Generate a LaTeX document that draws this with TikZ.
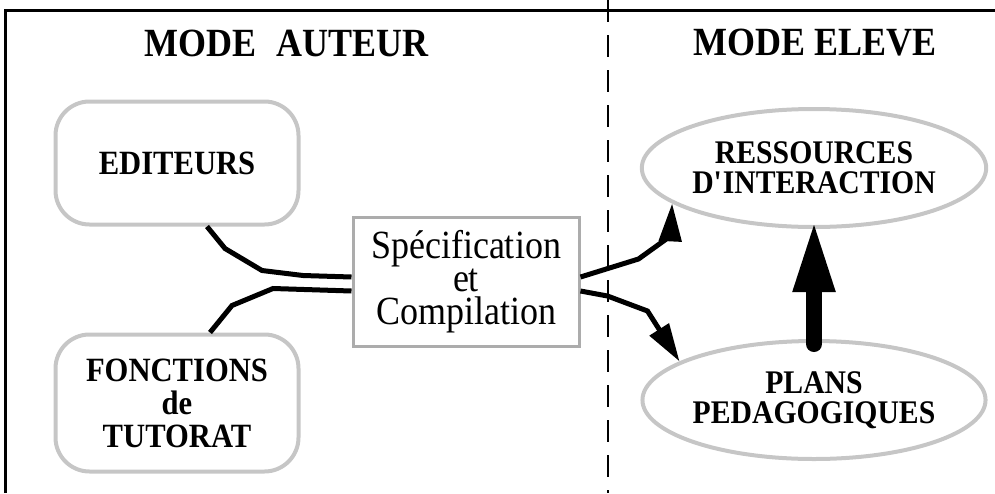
\documentclass[tikz,border=0pt]{standalone}
\usepackage{fontspec}
\setmainfont{Liberation Serif}[FakeStretch=0.9]
\usetikzlibrary{arrows.meta,shapes.geometric}

\tikzset{
  titre/.style={font=\bfseries\fontsize{40}{40}\selectfont},
  boite/.style={draw=gray!45, line width=4pt, rounded corners=34pt,
    minimum width=243pt, align=center, font=\bfseries\fontsize{34}{33}\selectfont},
  ovale/.style={ellipse, draw=gray!45, line width=4pt, minimum width=306pt,
    minimum height=118pt, inner sep=0pt, align=center,
    font=\bfseries\fontsize{33}{30}\selectfont},
  cadre/.style={draw=gray!65, line width=3pt, minimum width=226pt,
    minimum height=129pt, inner sep=0pt, align=center, font=\fontsize{40}{33}\selectfont},
  lien/.style={line width=5pt},
  fleche/.style={line width=5pt, -{Triangle[length=38pt,width=22pt]}},
  grossefleche/.style={line width=16pt, line cap=round,
    -{Triangle[length=73pt,width=38pt]}},
}

\begin{document}
\begin{tikzpicture}[x=1pt,y=-1pt]
   \useasboundingbox (0,0) rectangle (995,493);
   \draw[line width=3pt] (5,493) -- (5,10) -- (995,10);
   \draw[line width=2pt, dash pattern=on 22pt off 13pt] (608,0) -- (608,493);

   \draw (287,43) node[titre] (auteur) {MODE\hspace{0.5em}AUTEUR};
   \draw (815,43) node[titre] (eleve) {MODE ELEVE};

   \draw (177,163) node[boite, minimum height=123pt] (editeurs) {EDITEURS};
   \draw (177,403) node[boite, minimum height=137pt] (fonctions) {FONCTIONS\\de\\TUTORAT};
   \draw (466,282) node[cadre] (spec) {Spécification\\et\\Compilation};
   \draw (814,168) node[ovale] (ressources) {RESSOURCES\\D\textquotesingle INTERACTION};
   \draw (814,400) node[ovale] (plans) {PLANS\\PEDAGOGIQUES};

     \draw[lien] ([xshift=30pt]editeurs.south) -- ++(18,22) -- ++(37,22) -- ++(41,5)
        -- ([yshift=5pt]spec.west);
     \draw[lien] ([xshift=33pt]fonctions.north) -- ++(22,-27) -- ++(41,-17)
        -- ([yshift=-9pt]spec.west);
     \draw[fleche] ([yshift=5pt]spec.east) -- ++(58,-18) -- ++(32,-23) -- (ressources.194);
     \draw[fleche] ([yshift=-9pt]spec.east) -- ++(27,5) -- ++(40,15) -- (plans.164);
     \draw[grossefleche] ([yshift=-5pt]plans.north) -- ([yshift=10pt]ressources.south);

\end{tikzpicture}
\end{document}
